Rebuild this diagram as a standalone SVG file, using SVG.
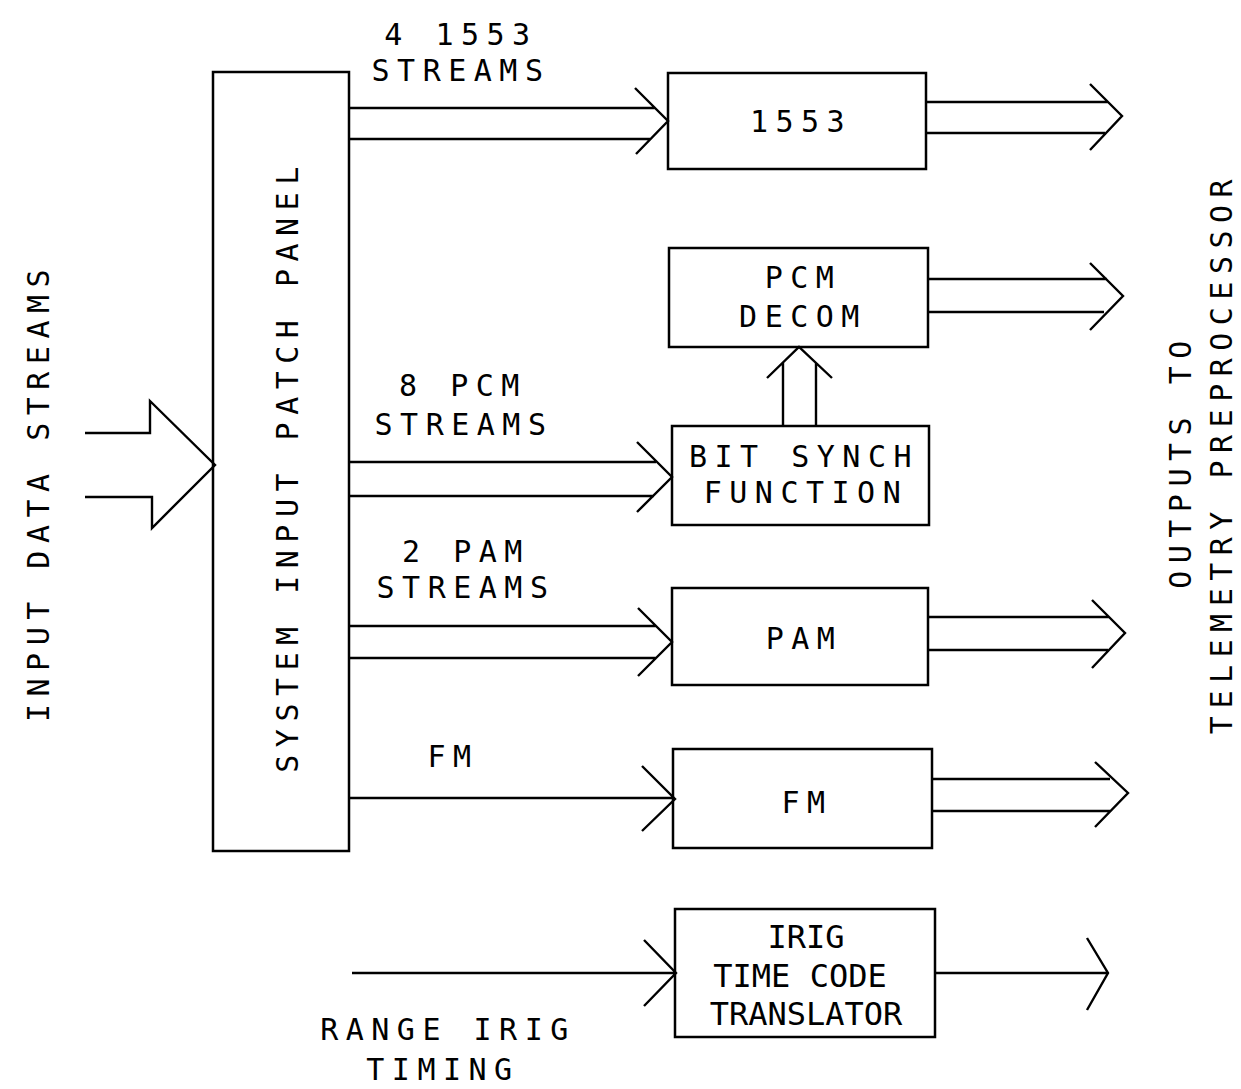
<svg xmlns="http://www.w3.org/2000/svg" width="1241" height="1089" viewBox="0 0 1241 1089">
<style>
.b{fill:none;stroke:#000;stroke-width:2.5}
.c{fill:none;stroke:#000;stroke-width:2.4;stroke-linejoin:miter;stroke-linecap:butt}
.t{font-family:"DejaVu Sans Mono","Liberation Mono",monospace;font-size:30px;fill:#000;letter-spacing:7.5px;text-anchor:middle}
.n{font-size:32px;letter-spacing:0px}
</style>
<rect width="1241" height="1089" fill="#fff"/>
<g id="panel">
<rect class="b" x="213" y="72" width="136" height="779"/>
<text class="t" transform="translate(298,466) rotate(-90)">SYSTEM INPUT PATCH PANEL</text>
</g>
<g id="n1553">
<rect class="b" x="668" y="73" width="258" height="96"/>
<text class="t" x="801" y="132">1553</text>
</g>
<g id="pcm">
<rect class="b" x="669" y="248" width="259" height="99"/>
<text class="t" x="803" y="288">PCM</text>
<text class="t" x="803" y="327">DECOM</text>
</g>
<g id="bitsynch">
<rect class="b" x="672" y="426" width="257" height="99"/>
<text class="t" x="804" y="467">BIT SYNCH</text>
<text class="t" x="806" y="503">FUNCTION</text>
</g>
<g id="pam">
<rect class="b" x="672" y="588" width="256" height="97"/>
<text class="t" x="804" y="649">PAM</text>
</g>
<g id="fm">
<rect class="b" x="673" y="749" width="259" height="99"/>
<text class="t" x="807" y="813">FM</text>
</g>
<g id="irig">
<rect class="b" x="675" y="909" width="260" height="128"/>
<text class="t n" x="806" y="948">IRIG</text>
<text class="t n" x="800" y="987">TIME CODE</text>
<text class="t n" x="806" y="1025">TRANSLATOR</text>
</g>
<g id="connectors">
<path class="c" d="M85 433H150V401L215 465L152 528V497H85"/>
<path class="c" d="M349 108H655M349 139H650M635 88L668 121L636 154"/>
<path class="c" d="M926 102H1108M926 133H1105M1090 84L1122 116L1090 150"/>
<path class="c" d="M928 279H1107M928 312H1104M1090 263L1123 296L1090 330"/>
<path class="c" d="M783 426V363M816 426V363M767 378L799 347L832 378"/>
<path class="c" d="M349 462H656M349 496H654M637 442L672 477L637 512"/>
<path class="c" d="M349 626H656M349 658H656M638 608L672 642L638 676"/>
<path class="c" d="M928 617H1109M928 650H1108M1092 600L1125 633L1092 668"/>
<path class="c" d="M349 798H674M642 766L675 799L642 831"/>
<path class="c" d="M932 779H1110M932 811H1111M1095 762L1128 793L1095 827"/>
<path class="c" d="M352 973H675M644 940L676 973L644 1006"/>
<path class="c" d="M935 973H1107M1087 938L1108 973L1087 1010"/>
</g>
<g id="labels">
<text class="t" transform="translate(49,492) rotate(-90)">INPUT DATA STREAMS</text>
<text class="t" x="461" y="45">4 1553</text>
<text class="t" x="461" y="81">STREAMS</text>
<text class="t" x="463" y="396">8 PCM</text>
<text class="t" x="464" y="435">STREAMS</text>
<text class="t" x="466" y="562">2 PAM</text>
<text class="t" x="466" y="598">STREAMS</text>
<text class="t" x="453" y="767">FM</text>
<text class="t" x="448" y="1040">RANGE IRIG</text>
<text class="t" x="443" y="1080">TIMING</text>
<text class="t" transform="translate(1191,461) rotate(-90)">OUTPUTS TO</text>
<text class="t" transform="translate(1232,453) rotate(-90)">TELEMETRY PREPROCESSOR</text>
</g>
</svg>
